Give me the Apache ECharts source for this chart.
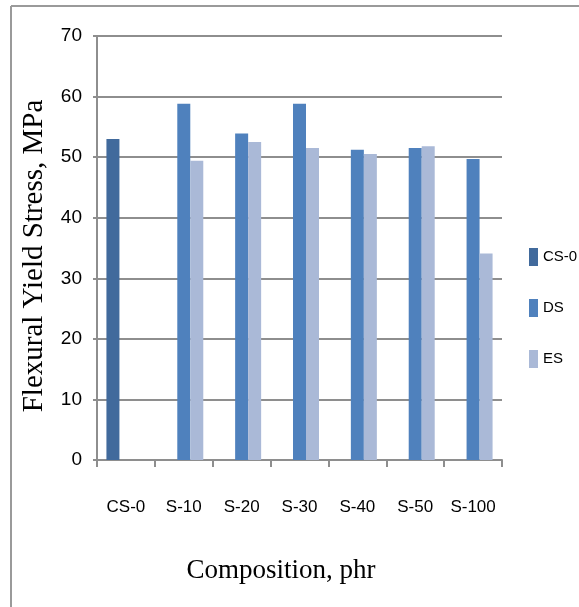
<!DOCTYPE html>
<html>
<head>
<meta charset="utf-8">
<title>Flexural Yield Stress</title>
<script src="https://cdn.jsdelivr.net/npm/echarts@6/dist/echarts.min.js"></script>
<style>
  html, body { margin: 0; padding: 0; background: #ffffff; }
  #chart { width: 579px; height: 607px; }
</style>
</head>
<body>
<div id="chart"></div>
<script>
// Compositions along the x axis
const categories = ['CS-0', 'S-10', 'S-20', 'S-30', 'S-40', 'S-50', 'S-100'];

// Flexural yield stress (MPa) for each sample family
const seriesNames = ['CS-0', 'DS', 'ES'];
const cs0Values = [53.0, null, null, null, null, null, null];
const dsValues  = [null, 58.8, 53.9, 58.8, 51.2, 51.5, 49.7];
const esValues  = [null, 49.4, 52.5, 51.5, 50.5, 51.8, 34.1];

// Y axis range and step
const yMin = 0;
const yMax = 70;
const yStep = 10;

const sansFont = "'Liberation Sans Narrow', 'Liberation Sans', sans-serif";
const serifFont = "'Liberation Serif', 'DejaVu Serif', serif";
const gridColor = '#8e8e8e';
const colors = ['#416a9c', '#4f81bd', '#aab9d7'];

const chart = echarts.init(document.getElementById('chart'), null, { renderer: 'canvas' });

const valueSets = [cs0Values, dsValues, esValues];

chart.setOption({
  animation: false,
  backgroundColor: '#ffffff',
  color: colors,
  grid: { left: 97, right: 77, top: 36, bottom: 147, containLabel: false },
  legend: {
    orient: 'vertical',
    left: 529,
    top: 248,
    padding: 0,
    icon: 'rect',
    itemWidth: 9,
    itemHeight: 18,
    itemGap: 33,
    itemTextGap: 4,
    itemStyle: { borderWidth: 0 },
    textStyle: { fontFamily: sansFont, fontSize: 15, color: '#000000', padding: [0, 0, 0, 0] },
    data: seriesNames
  },
  xAxis: {
    type: 'category',
    data: categories,
    axisLine: { show: true, lineStyle: { color: gridColor, width: 2 } },
    axisTick: { show: true, length: 7, lineStyle: { color: gridColor, width: 2 } },
    axisLabel: { fontFamily: sansFont, fontSize: 17, color: '#000000', margin: 39, interval: 0 },
    splitLine: { show: false }
  },
  yAxis: {
    type: 'value',
    min: yMin,
    max: yMax,
    interval: yStep,
    axisLine: { show: true, lineStyle: { color: gridColor, width: 2 } },
    axisTick: { show: true, inside: false, length: 4, lineStyle: { color: gridColor, width: 2 } },
    axisLabel: { fontFamily: sansFont, fontSize: 19, color: '#000000', margin: 15 },
    splitLine: { show: true, lineStyle: { color: gridColor, width: 2 } }
  },
  series: seriesNames.map((name, i) => ({
    name: name,
    type: 'bar',
    data: valueSets[i],
    barWidth: 13,
    barGap: '0%',
    itemStyle: { color: colors[i] }
  })),
  graphic: [
    // frame lines along the top and left edges
    { type: 'line', shape: { x1: 11, y1: 6, x2: 579, y2: 6 }, style: { stroke: '#9a9a9a', lineWidth: 2 } },
    { type: 'line', shape: { x1: 11, y1: 6, x2: 11, y2: 607 }, style: { stroke: '#9a9a9a', lineWidth: 2 } },
    {
      type: 'text',
      x: 281, y: 571,
      style: {
        text: 'Composition, phr',
        font: '27px ' + serifFont,
        fill: '#000000',
        textAlign: 'center',
        textVerticalAlign: 'middle'
      }
    },
    {
      type: 'text',
      x: 34, y: 256,
      rotation: Math.PI / 2,
      style: {
        text: 'Flexural Yield Stress, MPa',
        font: '29px ' + serifFont,
        fill: '#000000',
        textAlign: 'center',
        textVerticalAlign: 'middle'
      }
    }
  ]
});
</script>
</body>
</html>
